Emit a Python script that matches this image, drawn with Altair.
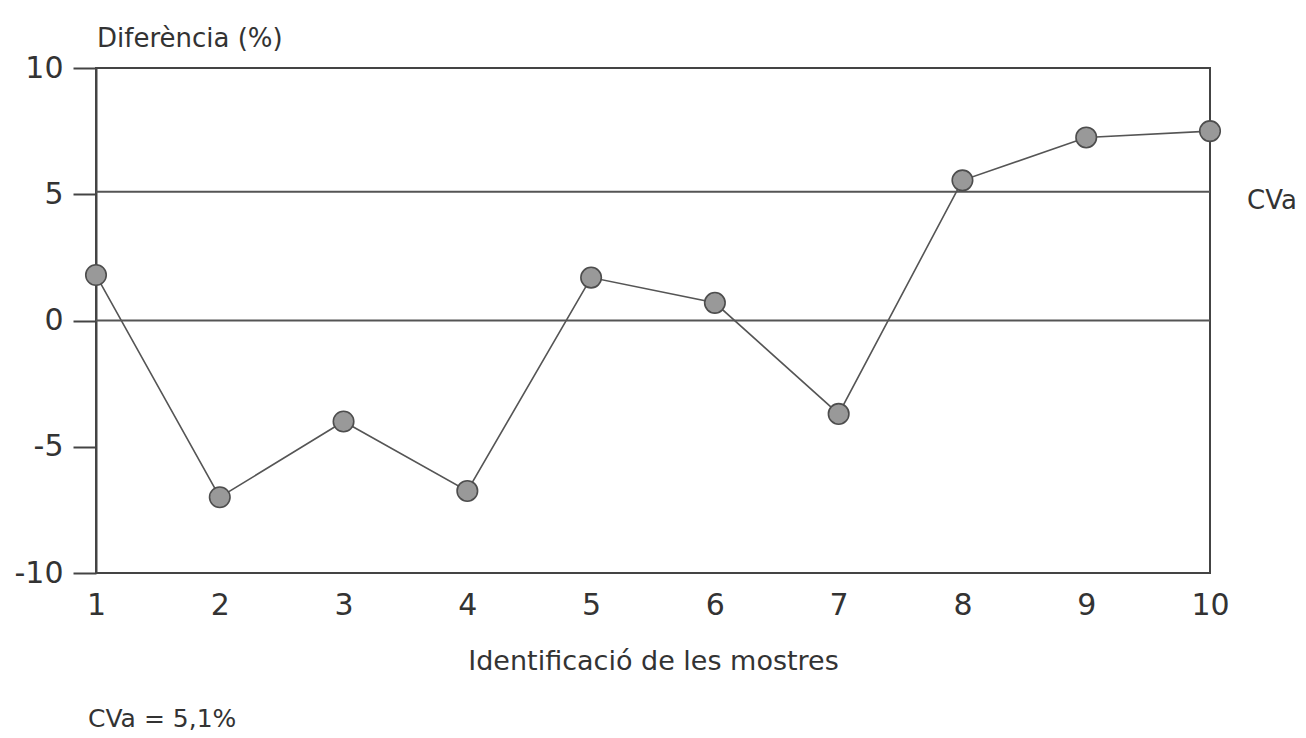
import altair as alt
import pandas as pd

samples = [1, 2, 3, 4, 5, 6, 7, 8, 9, 10]
diffs = [1.8, -7.0, -4.0, -6.75, 1.7, 0.7, -3.7, 5.55, 7.25, 7.5]
ref_lines = [0, 5.1]
y_ticks = [-10, -5, 0, 5, 10]

FONT = "DejaVu Sans"
INK = "#333333"

df = pd.DataFrame({"sample": samples, "diff": diffs})
ref_df = pd.DataFrame({"v": ref_lines})

x_enc = alt.X(
    "sample:Q",
    scale=alt.Scale(domain=[1, 10], nice=False, zero=False),
    axis=alt.Axis(
        values=samples, format="d", ticks=False, domain=False, grid=False,
        labelFlush=False, labelOverlap=False,
        labelFontSize=30, labelPadding=17, labelColor=INK, labelFont=FONT,
        title="Identificació de les mostres", titleFontSize=27,
        titleFontWeight="normal", titleColor=INK, titleFont=FONT, titlePadding=28,
    ),
)
y_enc = alt.Y(
    "diff:Q",
    scale=alt.Scale(domain=[-10, 10], nice=False, zero=False),
    axis=alt.Axis(
        values=y_ticks, tickSize=23, tickWidth=2, tickColor="#444",
        domain=True, domainColor="#444", domainWidth=2, grid=False,
        labelExpr="datum.value < 0 ? '-' + abs(datum.value) : '' + datum.value",
        labelFontSize=30, labelPadding=10, labelColor=INK, labelFont=FONT,
        title=None,
    ),
)

rules = alt.Chart(ref_df).mark_rule(color="#555", strokeWidth=2).encode(
    y=alt.Y("v:Q", scale=alt.Scale(domain=[-10, 10], nice=False, zero=False))
)

line = alt.Chart(df).mark_line(color="#555", strokeWidth=1.6).encode(x=x_enc, y=y_enc)
points = alt.Chart(df).mark_point(
    filled=True, size=420, fill="#999999", stroke="#4d4d4d", strokeWidth=1.6, opacity=1
).encode(x="sample:Q", y="diff:Q")

ylabel = alt.Chart(pd.DataFrame({"t": ["Diferència  (%)"]})).mark_text(
    align="left", baseline="alphabetic", fontSize=26, font=FONT, color=INK
).encode(text="t:N", x=alt.value(1), y=alt.value(-21))

cva = alt.Chart(pd.DataFrame({"t": ["CVa"]})).mark_text(
    align="left", baseline="alphabetic", fontSize=26, font=FONT, color=INK
).encode(text="t:N", x=alt.value(1151), y=alt.value(141))

note = alt.Chart(pd.DataFrame({"t": ["CVa = 5,1%"]})).mark_text(
    align="left", baseline="alphabetic", fontSize=25, font=FONT, color=INK
).encode(text="t:N", x=alt.value(-8), y=alt.value(659))

chart = alt.layer(rules, line, points, ylabel, cva, note).properties(
    width=1114, height=505,
    autosize=alt.AutoSizeParams(type="none"),
    padding={"left": 96, "top": 68, "right": 96, "bottom": 165},
    background="white",
).configure_view(stroke="#444", strokeWidth=2)

chart.save("out.html", embed_options={"renderer": "svg", "actions": False})
